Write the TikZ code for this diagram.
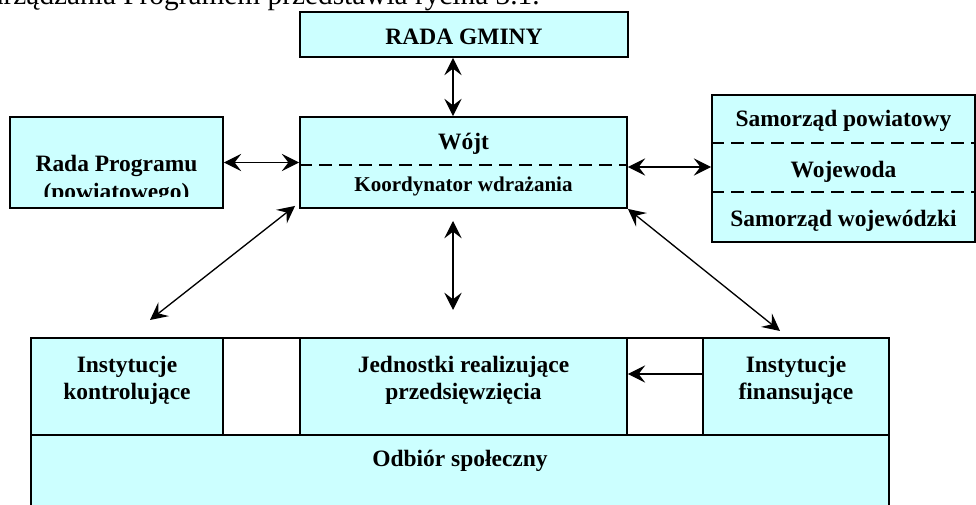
\documentclass[tikz,border=0pt]{standalone}
\usepackage{fontspec}
\setmainfont{Liberation Serif}
\usepackage{xcolor}
\usetikzlibrary{arrows.meta,fit,positioning}
\definecolor{boxcyan}{HTML}{CCFFFF}

\begin{document}
\begin{tikzpicture}[x=0.75pt,y=-0.75pt,>={Stealth[length=13pt,width=13pt,inset=5pt]},semithick]
	\tikzstyle{box}=[draw=black,line width=1.4pt,fill=boxcyan,inner sep=0pt]
	\tikzstyle{gapbox}=[box,fill=white]
	\tikzstyle{lbl}=[font=\bfseries\fontsize{17.6}{21}\selectfont,anchor=base,inner sep=0pt]
	\tikzstyle{divider}=[line width=1.4pt,dash pattern=on 10pt off 5pt]
	\tikzstyle{link}=[<->,line width=1pt]
	\path[use as bounding box,clip] (0,0) rectangle (976,505);
	\node[anchor=base east,inner sep=0pt,font=\fontsize{22}{26}\selectfont] (intro) at (540,5) {zarządzania Programem przedstawia rycina 3.1.};
	\node[box,fit={(300,12) (628,57)}]   (rada)     {};
	\node[box,fit={(300,117) (627,208)}] (wojt)     {};
	\node[box,fit={(10,117) (223,208)}]  (radaprog) {};
	\node[box,fit={(712,95) (975,242)}]  (samorzad) {};
	\node[box,fit={(31,435) (889,530)}]  (odbior)   {};
	\node[box,fit={(31,338) (223,435)}]  (kontr)    {};
	\node[gapbox,fit={(223,338) (300,435)}] (gap1)  {};
	\node[box,fit={(300,338) (627,435)}] (jedn)     {};
	\node[gapbox,fit={(627,338) (703,435)}] (gap2)  {};
	\node[box,fit={(703,338) (889,435)}] (fin)      {};
	\draw[divider] (wojt.west |- 0,165) -- (wojt.east |- 0,165);
	\draw[divider] (samorzad.west |- 0,143) -- (samorzad.east |- 0,143);
	\draw[divider] (samorzad.west |- 0,192) -- (samorzad.east |- 0,192);
	\node[lbl] (radaT)  at (464,45)    {RADA GMINY};
	\node[lbl] (wojtT)  at (463.5,150) {Wójt};
	\node[lbl,font=\bfseries\fontsize{15.8}{19}\selectfont] (koordT) at (463.5,192) {Koordynator wdrażania};
	\begin{scope}
		\clip (radaprog.north west) rectangle (223,197);
		\node[lbl] (radaprogA) at (116.5,172) {Rada Programu};
		\node[lbl] (radaprogB) at (116.5,200) {(powiatowego)};
	\end{scope}
	\node[lbl] (samA) at (843.5,127) {Samorząd powiatowy};
	\node[lbl] (samB) at (843.5,178) {Wojewoda};
	\begin{scope}
		\clip (samorzad.north west) rectangle (975,231);
		\node[lbl] (samC) at (843.5,227) {Samorząd wojewódzki};
	\end{scope}
	\node[lbl] (kontrA)  at (127,373)   {Instytucje};
	\node[lbl] (kontrB)  at (127,400)   {kontrolujące};
	\node[lbl] (jednA)   at (463.5,373) {Jednostki realizujące};
	\node[lbl] (jednB)   at (463.5,400) {przedsięwzięcia};
	\node[lbl] (finA)    at (796,373)   {Instytucje};
	\node[lbl] (finB)    at (796,400)   {finansujące};
	\node[lbl] (odbiorT) at (460,467)   {Odbiór społeczny};
	\coordinate (kontrend) at (150,320);
	\coordinate (finend)   at (780,331);
	\coordinate (midtop)   at (453,221);
	\coordinate (midbot)   at (453,310);
	\draw[link] (rada.south -| midtop) -- (wojt.north -| midtop);
	\draw[link] (radaprog.east) -- (wojt.west);
	\draw[link] (wojt.east |- 0,167) -- (samorzad.west |- 0,167);
	\draw[link] ([shift={(-4,-3)}]wojt.south west) -- (kontrend);
	\draw[link] (midtop) -- (midbot);
	\draw[link] (wojt.south east) -- (finend);
	\draw[->,line width=1pt] (fin.west |- 0,374) -- (jedn.east |- 0,374);
\end{tikzpicture}
\end{document}
